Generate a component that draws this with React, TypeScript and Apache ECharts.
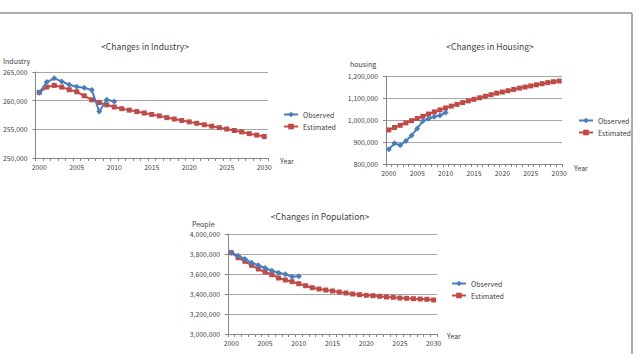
import React, { useEffect, useRef } from "react";
import * as echarts from "echarts";

const years = [
  "2000", "2001", "2002", "2003", "2004", "2005", "2006", "2007", "2008", "2009", "2010",
  "2011", "2012", "2013", "2014", "2015", "2016", "2017", "2018", "2019", "2020",
  "2021", "2022", "2023", "2024", "2025", "2026", "2027", "2028", "2029", "2030",
];

const industryObserved = [
  261400, 263250, 263900, 263360, 262780, 262430, 262250, 261840, 258100, 260150, 259850,
];
const industryEstimated = [
  261450, 262370, 262660, 262370, 261900, 261550, 260850, 260150, 259680, 259270, 258900,
  258600, 258350, 258100, 257850, 257600, 257350, 257050, 256800, 256550, 256300,
  256050, 255800, 255550, 255300, 255050, 254800, 254550, 254250, 254000, 253750,
];

const housingObserved = [
  866700, 893800, 884800, 904400, 930000, 961700, 994900, 1005400, 1014500, 1020500, 1034000,
];
const housingEstimated = [
  955000, 966000, 976000, 987000, 997000, 1007000, 1017000, 1027000, 1037000, 1046000, 1055000,
  1063000, 1071000, 1079000, 1087000, 1094000, 1101000, 1108000, 1115000, 1122000, 1127000,
  1133000, 1139000, 1145000, 1150000, 1155000, 1160000, 1165000, 1170000, 1174000, 1177000,
];

const populationObserved = [
  3813000, 3783000, 3750000, 3713000, 3687000, 3660000, 3633000, 3613000, 3597000, 3573000, 3577000,
];
const populationEstimated = [
  3813000, 3763000, 3727000, 3687000, 3650000, 3620000, 3593000, 3560000, 3540000, 3523000, 3503000,
  3483000, 3463000, 3450000, 3440000, 3430000, 3420000, 3410000, 3400000, 3393000, 3387000,
  3383000, 3377000, 3370000, 3367000, 3360000, 3357000, 3353000, 3350000, 3347000, 3340000,
];

const titles = ["<Changes in Industry>", "<Changes in Housing>", "<Changes in Population>"];
const yNames = ["Industry", "housing", "People"];
const seriesNames = ["Observed", "Estimated"];

const BLUE = "#4a7ebb";
const RED = "#be4b48";
const FONT = "Noto Sans CJK KR";
const TXT = "#404040";

export default function App() {
  const ref = useRef<HTMLDivElement>(null);
  useEffect(() => {
    if (!ref.current) return;
    const chart = echarts.init(ref.current, null, { renderer: "svg" });
    const grids = [
      { left: 34, top: 72, width: 234, height: 86 },
      { left: 386, top: 76, width: 176, height: 88 },
      { left: 228, top: 234, width: 209, height: 100 },
    ];
    const yRanges = [
      { min: 250000, max: 265000, interval: 5000 },
      { min: 800000, max: 1200000, interval: 100000 },
      { min: 3000000, max: 4000000, interval: 200000 },
    ];
    const data = [
      [industryObserved, industryEstimated],
      [housingObserved, housingEstimated],
      [populationObserved, populationEstimated],
    ];
    const legendPos = [
      { left: 283, top: 111 },
      { left: 578, top: 117 },
      { left: 451, top: 280 },
    ];
    const titlePos = [
      { x: 145, y: 46 },
      { x: 490, y: 46 },
      { x: 320, y: 216 },
    ];
    const yNamePos = [
      { x: 3, y: 61 },
      { x: 350, y: 64 },
      { x: 192, y: 224 },
    ];
    const yearPos = [
      { x: 280, y: 161 },
      { x: 574, y: 168 },
      { x: 447, y: 336 },
    ];

    const series: any[] = [];
    data.forEach((pair, gi) => {
      pair.forEach((vals, si) => {
        series.push({
          type: "line",
          name: seriesNames[si],
          xAxisIndex: gi,
          yAxisIndex: gi,
          data: vals,
          symbol: si === 0 ? "diamond" : "rect",
          symbolSize: si === 0 ? 6 : 5,
          showSymbol: true,
          showAllSymbol: true,
          lineStyle: { width: 2, color: si === 0 ? BLUE : RED },
          itemStyle: { color: si === 0 ? BLUE : RED },
          z: si === 0 ? 3 : 2,
        });
      });
    });

    const graphic: any[] = [];
    titles.forEach((t, i) => {
      graphic.push({
        type: "text",
        x: titlePos[i].x,
        y: titlePos[i].y,
        style: { text: t, font: `8.5px "${FONT}"`, fill: TXT, textAlign: "center", textVerticalAlign: "middle" },
      });
      graphic.push({
        type: "text",
        x: yNamePos[i].x,
        y: yNamePos[i].y,
        style: { text: yNames[i], font: `7px "${FONT}"`, fill: TXT, textAlign: "left", textVerticalAlign: "middle" },
      });
      graphic.push({
        type: "text",
        x: yearPos[i].x,
        y: yearPos[i].y,
        style: { text: "Year", font: `7px "${FONT}"`, fill: TXT, textAlign: "left", textVerticalAlign: "middle" },
      });
    });
    graphic.push({
      type: "line",
      shape: { x1: 0, y1: 13, x2: 632, y2: 13 },
      style: { stroke: "#8f8f8f", lineWidth: 1.5 },
    });
    graphic.push({
      type: "line",
      shape: { x1: 632, y1: 13, x2: 632, y2: 354 },
      style: { stroke: "#8f8f8f", lineWidth: 1.5 },
    });

    chart.setOption({
      animation: false,
      backgroundColor: "#ffffff",
      textStyle: { fontFamily: FONT },
      grid: grids.map((g) => ({ ...g, containLabel: false })),
      xAxis: grids.map((_, i) => ({
        type: "category",
        gridIndex: i,
        data: years,
        boundaryGap: true,
        axisLine: { lineStyle: { color: "#868686", width: 1 } },
        axisTick: { show: true, interval: 0, length: 3, lineStyle: { color: "#868686" } },
        axisLabel: { interval: 4, fontSize: 6.8, color: TXT, margin: 6, fontFamily: FONT },
        splitLine: { show: false },
      })),
      yAxis: grids.map((_, i) => ({
        type: "value",
        gridIndex: i,
        ...yRanges[i],
        axisLine: { show: true, lineStyle: { color: "#868686", width: 1 } },
        axisTick: { show: true, length: 3, lineStyle: { color: "#868686" } },
        axisLabel: {
          fontSize: 6.8,
          color: TXT,
          margin: 8,
          fontFamily: FONT,
          formatter: (v: number) => v.toLocaleString("en-US"),
        },
        splitLine: { show: true, lineStyle: { color: "#a6a6a6", width: 1 } },
      })),
      legend: legendPos.map((p) => ({
        orient: "vertical",
        left: p.left,
        top: p.top,
        itemWidth: 14,
        itemHeight: 7,
        itemGap: 5,
        padding: 0,
        textStyle: { fontSize: 7, color: TXT, fontFamily: FONT },
        data: seriesNames,
      })),
      series,
      graphic,
    });
    return () => chart.dispose();
  }, []);
  return (
    <div
      ref={ref}
      style={{ position: "fixed", left: 0, top: 0, width: 637, height: 354, background: "#fff" }}
    />
  );
}
